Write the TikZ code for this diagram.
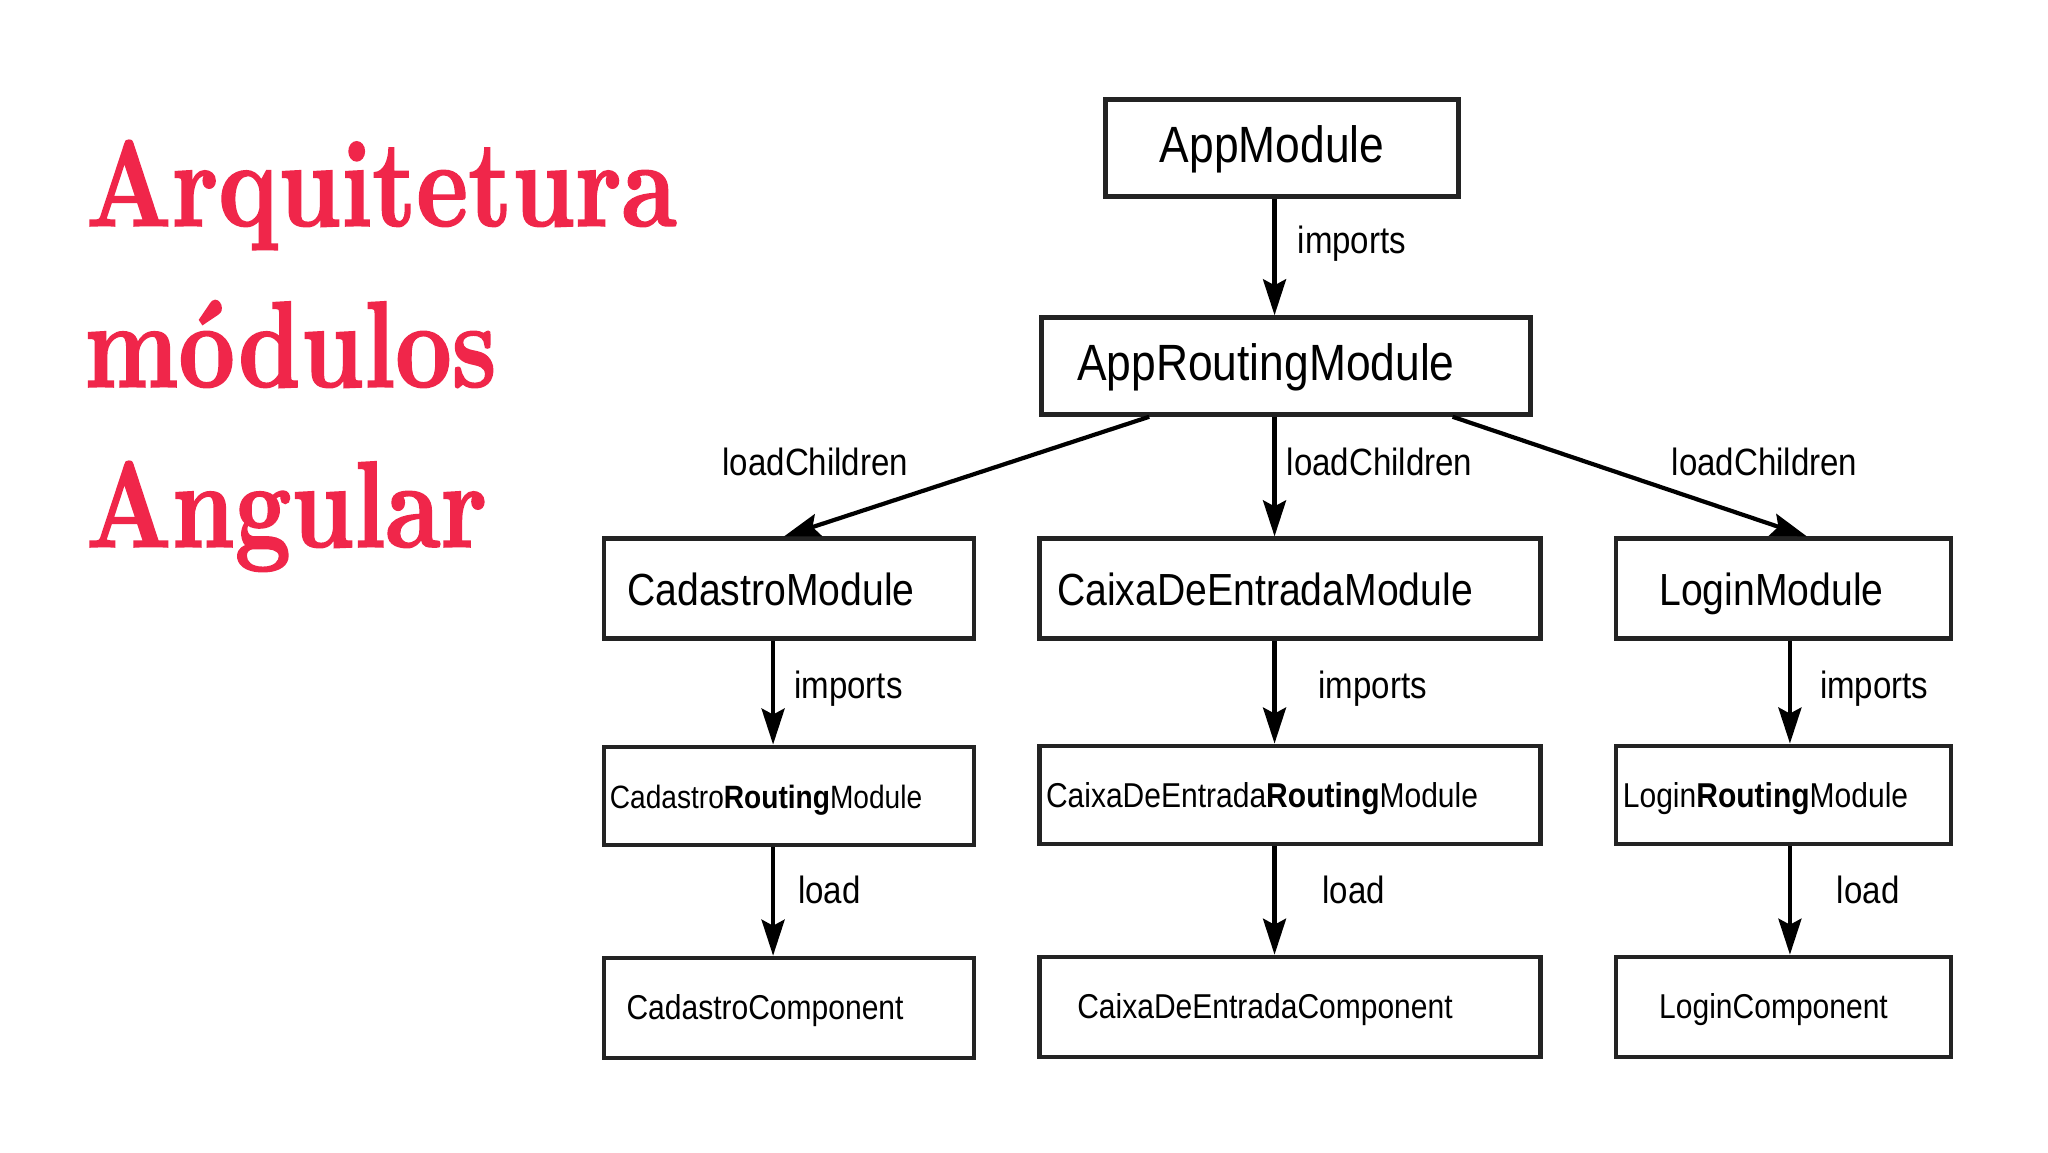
\documentclass[tikz,border=0pt]{standalone}
\usepackage{fontspec}
\newfontfamily\diagfont[FakeStretch=0.87]{Liberation Sans}
\newfontfamily\titlefont[FakeStretch=0.8,FakeBold=1.2]{lmroman10-bold.otf}
\usetikzlibrary{arrows.meta}
\definecolor{titlered}{RGB}{240,38,74}
\definecolor{boxline}{RGB}{35,35,35}
\begin{document}
\begin{tikzpicture}[x=1pt,y=-1pt,
  box/.style={draw=boxline, line width=4.5pt, inner sep=0pt, font=\diagfont},
  rowA/.style={box, minimum height=97pt, text height=39.3pt, text depth=10.7pt, font=\diagfont\fontsize{51}{54}\selectfont},
  rowB/.style={box, minimum height=100pt, text height=42.4pt, text depth=9.5pt, font=\diagfont\fontsize{45}{48}\selectfont},
  rowC/.style={box, minimum height=98pt, text height=32.8pt, text depth=7.2pt, font=\diagfont\fontsize{34.5}{37}\selectfont},
  rowD/.style={box, minimum height=100pt, text height=30pt, text depth=7.2pt, font=\diagfont\fontsize{34.5}{37}\selectfont},
  lbl/.style={anchor=west, inner sep=0pt, font=\diagfont\fontsize{38}{40}\selectfont},
  arr/.style={line width=4.2pt, -{Stealth[length=36pt,width=23pt,inset=6pt]}},
  ttl/.style={anchor=base west, inner sep=0pt, text=titlered, font=\titlefont\fontsize{123}{125}\selectfont}
]
\useasboundingbox[fill=white] (0,0) rectangle (2048,1152);

% title
\node[ttl] (t1) at (86,226) {Arquitetura};
\node[ttl] (t2) at (84,387) {módulos};
\node[ttl] (t3) at (86,547) {Angular};

\begin{scope}[xscale=0.995, yscale=0.996]
% boxes
\node[rowA, minimum width=353pt] (app) at (1288.5,148.5) {AppModule\hspace*{20pt}};
\node[rowA, minimum width=489pt] (approut) at (1292.5,367.5) {AppRoutingModule\hspace*{40pt}};

\node[rowB, minimum width=370pt] (cad) at (793,591) {CadastroModule\hspace*{36pt}};
\node[rowB, minimum width=501pt] (caixa) at (1296.5,591) {CaixaDeEntradaModule\hspace*{50pt}};
\node[rowB, minimum width=335pt] (login) at (1792.5,591) {LoginModule\hspace*{24pt}};

\node[rowC, minimum width=370pt] (cadr) at (793,799) {\fontsize{32.3}{35}\selectfont Cadastro\textbf{Routing}Module\hspace*{46pt}};
\node[rowC, minimum width=501pt] (caixar) at (1296.5,798) {CaixaDeEntrada\textbf{Routing}Module\hspace*{56pt}};
\node[rowC, minimum width=335pt] (loginr) at (1792.5,798) {Login\textbf{Routing}Module\hspace*{36pt}};

\node[rowD, minimum width=370pt] (cadc) at (793,1012) {CadastroComponent\hspace*{48pt}};
\node[rowD, minimum width=501pt] (caixac) at (1296.5,1011) {CaixaDeEntradaComponent\hspace*{50pt}};
\node[rowD, minimum width=335pt] (loginc) at (1792.5,1011) {LoginComponent\hspace*{20pt}};

% connector x positions
\coordinate (colA) at (777,0);
\coordinate (colB) at (1281,0);
\coordinate (colC) at (1799,0);
\coordinate (dLs) at (1155,0);
\coordinate (dLe) at (788,0);
\coordinate (dRs) at (1460,0);
\coordinate (dRe) at (1816,0);

% connectors
\draw[arr] (app.south -| colB) -- (approut.north -| colB);
\draw[arr] (approut.south -| dLs) -- (cad.north -| dLe);
\draw[arr] (approut.south -| colB) -- (caixa.north -| colB);
\draw[arr] (approut.south -| dRs) -- (login.north -| dRe);

\draw[arr] (cad.south -| colA) -- (cadr.north -| colA);
\draw[arr] (caixa.south -| colB) -- (caixar.north -| colB);
\draw[arr] (login.south -| colC) -- (loginr.north -| colC);

\draw[arr] (cadr.south -| colA) -- (cadc.north -| colA);
\draw[arr] (caixar.south -| colB) -- (caixac.north -| colB);
\draw[arr] (loginr.south -| colC) -- (loginc.north -| colC);

% labels
\node[lbl] (l0) at (1304,245) {imports};
\node[lbl] (l1) at (726,464) {loadChildren};
\node[lbl] (l2) at (1293,464) {loadChildren};
\node[lbl] (l3) at (1680,464) {loadChildren};
\node[lbl] (l4) at (798,691) {imports};
\node[lbl] (l5) at (1325,691) {imports};
\node[lbl] (l6) at (1829,691) {imports};
\node[lbl] (l7) at (802,893) {load};
\node[lbl] (l8) at (1329,893) {load};
\node[lbl] (l9) at (1846,893) {load};
\end{scope}
\end{tikzpicture}
\end{document}
